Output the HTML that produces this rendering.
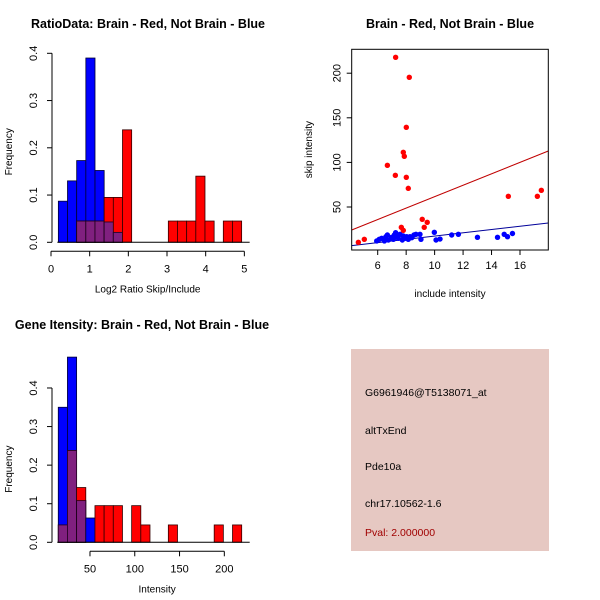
<!DOCTYPE html>
<html><head><meta charset="utf-8"><style>
body{margin:0;background:#fff}
svg{display:block;font-family:"Liberation Sans","DejaVu Sans",sans-serif}
</style></head><body>
<svg id="c" width="600" height="600" xmlns="http://www.w3.org/2000/svg">
<rect width="600" height="600" fill="#fff"/>
<text x="148" y="28" text-anchor="middle" font-weight="bold" font-size="12.5">RatioData: Brain - Red, Not Brain - Blue</text>
<text x="450" y="28" text-anchor="middle" font-weight="bold" font-size="12.5">Brain - Red, Not Brain - Blue</text>
<text x="142" y="329" text-anchor="middle" font-weight="bold" font-size="12.5">Gene Itensity: Brain - Red, Not Brain - Blue</text>
<g id="h1"></g>
<g id="h2"></g>
<g id="sc"></g>
<g>
<rect x="351" y="349" width="198" height="202" fill="#e6c8c2"/>
<text x="365" y="396" font-size="10.5">G6961946@T5138071_at</text>
<text x="365" y="434" font-size="10.5">altTxEnd</text>
<text x="365" y="470" font-size="10.5">Pde10a</text>
<text x="365" y="507" font-size="10.5">chr17.10562-1.6</text>
<text x="365" y="536" font-size="10.5" fill="#a00000">Pval: 2.000000</text>
</g>
</svg>
<script>
// Ratio histogram data
const ratioBlue=[0.087,0.13,0.173,0.39,0.152,0.043,0.021,0,0,0,0,0,0,0,0,0,0,0,0,0];
const ratioRed=[0,0,0.045,0.045,0.045,0.095,0.095,0.238,0,0,0,0,0.045,0.045,0.045,0.14,0.045,0,0.045,0.045];
const ratioXTicks=[0,1,2,3,4,5];
const ratioYTicks=[0.0,0.1,0.2,0.3,0.4];
// Intensity histogram data
const intBlue=[0.35,0.48,0.108,0.063,0,0,0,0,0,0,0,0,0,0,0,0,0,0,0,0];
const intRed=[0.045,0.238,0.142,0,0.095,0.095,0.095,0,0.095,0.045,0,0,0.045,0,0,0,0,0.045,0,0.045];
const intXTicks=[50,100,150,200];
const intYTicks=[0.0,0.1,0.2,0.3,0.4];
// Scatter data
const redX=[7.26,8.22,8.01,7.80,7.87,6.68,7.24,8.01,8.15,9.13,9.48,9.27,7.66,7.80,4.64,5.06,15.18,17.22,17.50];
const redY=[217.8,195.4,139.3,111.3,106.8,96.7,85.5,83.3,70.9,36.2,32.8,27.2,27.2,23.8,10.4,13.8,62.0,62.0,68.7];
const blueX=[5.93,6.11,6.28,6.47,6.58,6.68,6.75,6.98,7.10,7.17,7.26,7.33,7.45,7.57,7.73,7.80,7.92,8.04,8.15,8.27,8.39,8.55,8.69,8.97,9.04,9.98,10.10,10.38,11.20,11.67,13.01,14.42,14.89,15.12,15.47];
const blueY=[11.9,13.8,14.9,11.9,16.7,18.6,13.0,16.0,13.8,18.6,21.2,16.7,14.9,19.4,13.0,17.5,14.9,16.7,13.8,16.7,15.6,18.6,19.4,19.4,13.8,21.6,13.0,14.1,18.6,19.4,16.0,16.0,19.4,16.7,20.3];
const redFit=[-2.53,6.41];
const blueFit=[-1.02,1.84];
const scXTicks=[6,8,10,12,14,16];
const scYTicks=[50,100,150,200];

const NS="http://www.w3.org/2000/svg";
function mk(p,t,a){const e=document.createElementNS(NS,t);for(const k in a)e.setAttribute(k,a[k]);p.appendChild(e);return e;}

function hist(g,blue,red,start,width,sx,sy,y0,xTicks,yTicks,xAxisFrom,xAxisTo,xlab){
  for(let i=0;i<blue.length;i++){
    const a=start+i*width,b=a+width;
    const bx=sx(a),bw=sx(b)-sx(a);
    const lo=Math.min(blue[i],red[i]);
    if(blue[i]>0){const r=mk(g,'rect',{x:bx,y:sy(blue[i]),width:bw,height:y0-sy(blue[i]),fill:'#0000ff',stroke:'#000033','stroke-width':0.8});
      
      }
    if(red[i]>0){const r=mk(g,'rect',{x:bx,y:sy(red[i]),width:bw,height:y0-sy(red[i]),fill:'#ff0000',stroke:'#330000','stroke-width':0.8});
      
      }
    if(lo>0){const r=mk(g,'rect',{x:bx,y:sy(lo),width:bw,height:y0-sy(lo),fill:'#80207f',stroke:'#200020','stroke-width':0.8});
      
      }
  }
  mk(g,'line',{x1:sx(start)-1,x2:sx(start+blue.length*width)+8,y1:y0,y2:y0,stroke:'#000'});
  const ax=sx(xAxisFrom),bx2=sx(xAxisTo),ay=y0+9;
  mk(g,'line',{x1:ax,x2:bx2,y1:ay,y2:ay,stroke:'#000'});
  xTicks.forEach(v=>{mk(g,'line',{x1:sx(v),x2:sx(v),y1:ay,y2:ay+5,stroke:'#000'});
    const t=mk(g,'text',{x:sx(v),y:ay+21,'text-anchor':'middle','font-size':11});t.textContent=v;
    
    });
  mk(g,'line',{x1:52,x2:52,y1:sy(yTicks[0]),y2:sy(yTicks[yTicks.length-1]),stroke:'#000'});
  yTicks.forEach(v=>{mk(g,'line',{x1:47,x2:52,y1:sy(v),y2:sy(v),stroke:'#000'});
    const t=mk(g,'text',{x:0,y:0,'text-anchor':'middle','font-size':11,transform:`translate(37,${sy(v)}) rotate(-90)`});t.textContent=v.toFixed(1);
    
    });
  const yl=mk(g,'text',{x:0,y:0,'text-anchor':'middle','font-size':10,transform:`translate(12,${(sy(0)+sy(0.4))/2+4}) rotate(-90)`});yl.textContent='Frequency';
  
  
  const xl=mk(g,'text',{x:(ax+bx2)/2,y:ay+41,'text-anchor':'middle','font-size':10});xl.textContent=xlab;
  
  
}

// top-left
{const g=document.getElementById('h1');
 const sx=v=>51+v*38.67, sy=v=>242.3-v*472.5;
 hist(g,ratioBlue,ratioRed,0.19,0.237,sx,sy,242.3,ratioXTicks,ratioYTicks,0,5,'Log2 Ratio Skip/Include');}
// bottom-left
{const g=document.getElementById('h2');
 const sx=v=>45.2+v*0.8956, sy=v=>542.3-v*385.8;
 hist(g,intBlue,intRed,14.6,10.24,sx,sy,542.3,intXTicks,intYTicks,50,200,'Intensity');}
// scatter
{const g=document.getElementById('sc');
 const L=351.7,R=548.3,T=49.3,B=250;
 const sx=v=>377.7+(v-6)*14.23, sy=v=>251.6-v*0.892;
 const x0=(L-377.7)/14.23+6, x1=(R-377.7)/14.23+6;
 const cl=mk(g,'clipPath',{id:'scclip'});mk(cl,'rect',{x:L,y:T,width:R-L,height:B-T});
 [[redFit,'#c00000','red-fit-line'],[blueFit,'#000099','blue-fit-line']].forEach(([f,c,n])=>{
   const l=mk(g,'line',{x1:sx(x0),y1:sy(f[0]+f[1]*x0),x2:sx(x1),y2:sy(f[0]+f[1]*x1),stroke:c,'stroke-width':1,'clip-path':'url(#scclip)'});
   
   });
 blueX.forEach((x,i)=>{const c=mk(g,'circle',{cx:sx(x),cy:sy(blueY[i]),r:2.7,fill:'#0000ff'});
   
   });
 redX.forEach((x,i)=>{const c=mk(g,'circle',{cx:sx(x),cy:sy(redY[i]),r:2.7,fill:'#ff0000'});
   
   });
 mk(g,'rect',{x:L,y:T,width:R-L,height:B-T,fill:'none',stroke:'#000'});
 scXTicks.forEach(v=>{mk(g,'line',{x1:sx(v),x2:sx(v),y1:B,y2:B+5,stroke:'#000'});
   const t=mk(g,'text',{x:sx(v),y:B+19,'text-anchor':'middle','font-size':11});t.textContent=v;
   
   });
 scYTicks.forEach(v=>{mk(g,'line',{x1:L-5,x2:L,y1:sy(v),y2:sy(v),stroke:'#000'});
   const t=mk(g,'text',{x:0,y:0,'text-anchor':'middle','font-size':11,transform:`translate(${L-11},${sy(v)}) rotate(-90)`});t.textContent=v;
   
   });
 const xl=mk(g,'text',{x:(L+R)/2,y:297,'text-anchor':'middle','font-size':10});xl.textContent='include intensity';
 
 
 const yl=mk(g,'text',{x:0,y:0,'text-anchor':'middle','font-size':10,transform:`translate(312,${(T+B)/2}) rotate(-90)`});yl.textContent='skip intensity';
 
 }
</script>
</body></html>
